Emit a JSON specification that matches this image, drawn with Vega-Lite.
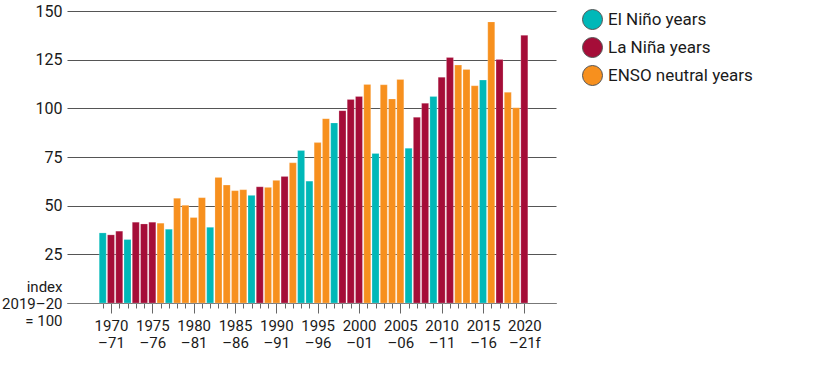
{
  "$schema": "https://vega.github.io/schema/vega-lite/v6.json",
  "width": 489,
  "height": 292,
  "autosize": {"type": "none"},
  "padding": {"left": 67, "top": 11, "right": 260, "bottom": 63},
  "background": "white",
  "config": {
    "view": {"stroke": null},
    "font": "Roboto",
    "axis": {"labelFont": "Roboto", "labelColor": "#1a1a1a"}
  },
  "data": {
    "values": [
      {"year": 1969, "value": 36.0, "type": "El Niño years"},
      {"year": 1970, "value": 35.0, "type": "La Niña years"},
      {"year": 1971, "value": 36.9, "type": "La Niña years"},
      {"year": 1972, "value": 32.6, "type": "El Niño years"},
      {"year": 1973, "value": 41.5, "type": "La Niña years"},
      {"year": 1974, "value": 40.6, "type": "La Niña years"},
      {"year": 1975, "value": 41.5, "type": "La Niña years"},
      {"year": 1976, "value": 41.0, "type": "ENSO neutral years"},
      {"year": 1977, "value": 37.9, "type": "El Niño years"},
      {"year": 1978, "value": 53.8, "type": "ENSO neutral years"},
      {"year": 1979, "value": 50.2, "type": "ENSO neutral years"},
      {"year": 1980, "value": 43.9, "type": "ENSO neutral years"},
      {"year": 1981, "value": 54.1, "type": "ENSO neutral years"},
      {"year": 1982, "value": 38.9, "type": "El Niño years"},
      {"year": 1983, "value": 64.5, "type": "ENSO neutral years"},
      {"year": 1984, "value": 60.6, "type": "ENSO neutral years"},
      {"year": 1985, "value": 57.7, "type": "ENSO neutral years"},
      {"year": 1986, "value": 58.2, "type": "ENSO neutral years"},
      {"year": 1987, "value": 55.3, "type": "El Niño years"},
      {"year": 1988, "value": 59.7, "type": "La Niña years"},
      {"year": 1989, "value": 59.4, "type": "ENSO neutral years"},
      {"year": 1990, "value": 63.0, "type": "ENSO neutral years"},
      {"year": 1991, "value": 65.0, "type": "La Niña years"},
      {"year": 1992, "value": 72.0, "type": "ENSO neutral years"},
      {"year": 1993, "value": 78.3, "type": "El Niño years"},
      {"year": 1994, "value": 62.6, "type": "El Niño years"},
      {"year": 1995, "value": 82.4, "type": "ENSO neutral years"},
      {"year": 1996, "value": 94.7, "type": "ENSO neutral years"},
      {"year": 1997, "value": 92.5, "type": "El Niño years"},
      {"year": 1998, "value": 98.8, "type": "La Niña years"},
      {"year": 1999, "value": 104.6, "type": "La Niña years"},
      {"year": 2000, "value": 106.1, "type": "La Niña years"},
      {"year": 2001, "value": 112.3, "type": "ENSO neutral years"},
      {"year": 2002, "value": 76.8, "type": "El Niño years"},
      {"year": 2003, "value": 112.1, "type": "ENSO neutral years"},
      {"year": 2004, "value": 104.8, "type": "ENSO neutral years"},
      {"year": 2005, "value": 114.8, "type": "ENSO neutral years"},
      {"year": 2006, "value": 79.5, "type": "El Niño years"},
      {"year": 2007, "value": 95.4, "type": "La Niña years"},
      {"year": 2008, "value": 102.6, "type": "La Niña years"},
      {"year": 2009, "value": 106.1, "type": "El Niño years"},
      {"year": 2010, "value": 116.0, "type": "La Niña years"},
      {"year": 2011, "value": 126.1, "type": "La Niña years"},
      {"year": 2012, "value": 122.2, "type": "ENSO neutral years"},
      {"year": 2013, "value": 120.0, "type": "ENSO neutral years"},
      {"year": 2014, "value": 111.6, "type": "ENSO neutral years"},
      {"year": 2015, "value": 114.5, "type": "El Niño years"},
      {"year": 2016, "value": 144.4, "type": "ENSO neutral years"},
      {"year": 2017, "value": 125.1, "type": "La Niña years"},
      {"year": 2018, "value": 108.2, "type": "ENSO neutral years"},
      {"year": 2019, "value": 100.3, "type": "ENSO neutral years"},
      {"year": 2020, "value": 137.5, "type": "La Niña years"}
    ]
  },
  "mark": {"type": "bar", "size": 7, "stroke": "#ffffff", "strokeOpacity": 0.35, "strokeWidth": 0.6},
  "encoding": {
    "x": {
      "field": "year",
      "type": "quantitative",
      "scale": {"domain": [1964.68, 2023.83], "nice": false, "zero": false, "padding": 0},
      "axis": {
        "title": null,
        "grid": false,
        "values": [1969,1970,1971,1972,1973,1974,1975,1976,1977,1978,1979,1980,1981,1982,1983,1984,1985,1986,1987,1988,1989,1990,1991,1992,1993,1994,1995,1996,1997,1998,1999,2000,2001,2002,2003,2004,2005,2006,2007,2008,2009,2010,2011,2012,2013,2014,2015,2016,2017,2018,2019,2020],
        "domainColor": "#777777",
        "domainWidth": 1,
        "tickColor": "#666666",
        "tickSize": {"condition": {"test": "datum.value % 5 === 0", "value": 10}, "value": 5},
        "labelExpr": "datum.value % 5 === 0 ? [toString(datum.value), '\u2013' + substring(toString(datum.value + 1), 2) + (datum.value === 2020 ? 'f' : '')] : ''",
        "labelFontSize": 15,
        "labelLineHeight": 17,
        "labelPadding": 5,
        "labelOverlap": false,
        "labelFlush": false,
        "labelBaseline": "top"
      }
    },
    "y": {
      "field": "value",
      "type": "quantitative",
      "scale": {"domain": [0, 150], "nice": false},
      "axis": {
        "title": null,
        "values": [0, 25, 50, 75, 100, 125, 150],
        "domain": false,
        "ticks": false,
        "gridColor": "#555555",
        "gridWidth": 1,
        "labelExpr": "datum.value === 0 ? ['index', '2019\u201320', '= 100'] : datum.label",
        "labelFontSize": {"condition": {"test": "datum.value === 0", "value": 15}, "value": 16},
        "labelOffset": {"condition": {"test": "datum.value === 0", "value": -17}, "value": 0},
        "labelLineHeight": 17,
        "labelPadding": 5
      }
    },
    "color": {
      "field": "type",
      "type": "nominal",
      "scale": {
        "domain": ["El Niño years", "La Niña years", "ENSO neutral years"],
        "range": ["#00B8B8", "#A50D38", "#F7901E"]
      },
      "legend": {
        "title": null,
        "orient": "none",
        "legendX": 515,
        "legendY": -2,
        "padding": 0,
        "symbolType": "circle",
        "symbolSize": 400,
        "symbolStrokeColor": "#555555",
        "symbolStrokeWidth": 1,
        "symbolOpacity": 1,
        "labelFontSize": 17,
        "labelColor": "#1a1a1a",
        "labelOffset": 5,
        "rowPadding": 3
      }
    }
  }
}
